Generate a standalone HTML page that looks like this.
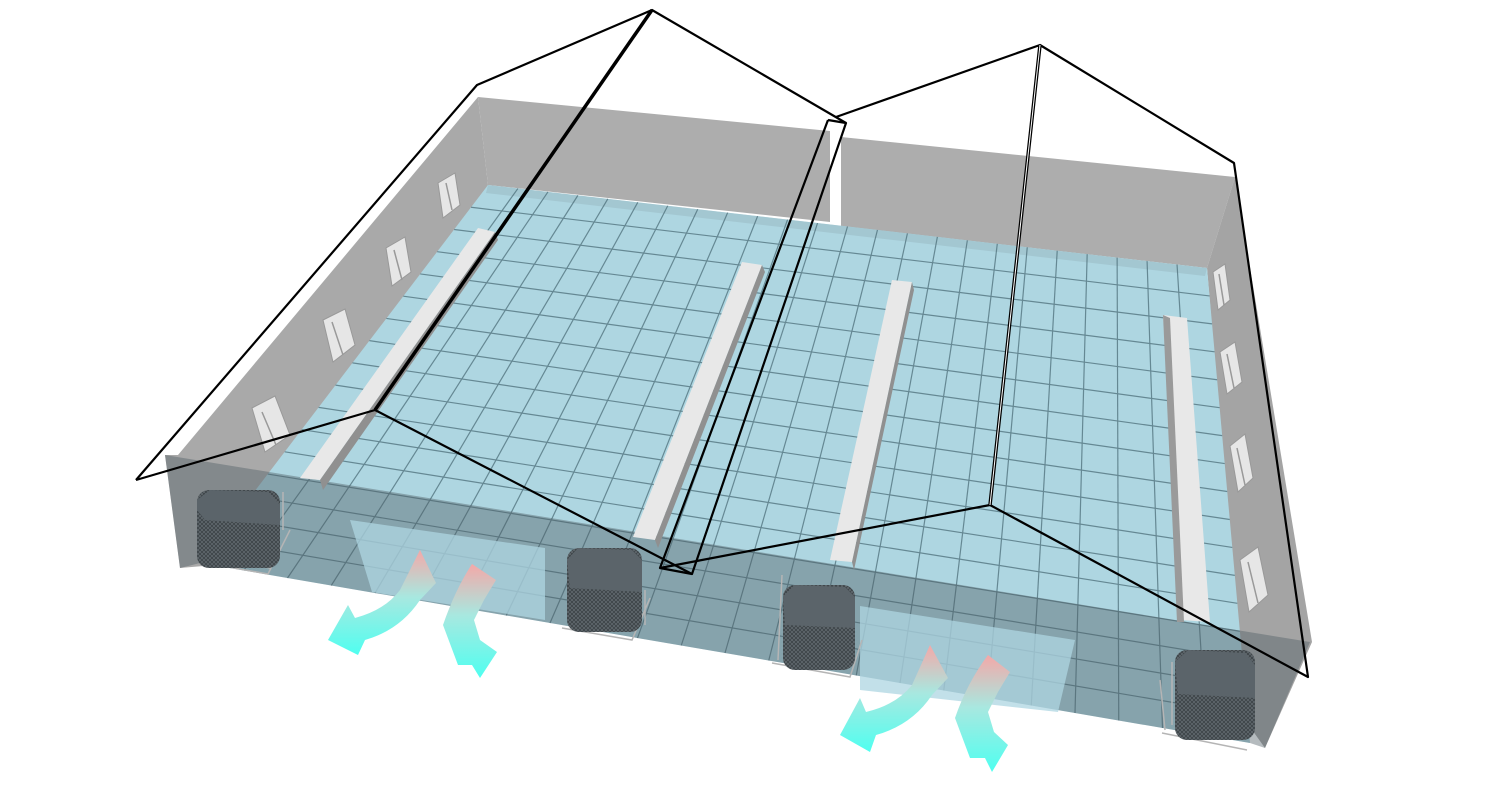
<!DOCTYPE html>
<html><head><meta charset="utf-8"><style>html,body{margin:0;padding:0;background:#fff;width:1500px;height:800px;overflow:hidden}</style></head>
<body>
<svg id="s" width="1500" height="800" viewBox="0 0 1500 800" xmlns="http://www.w3.org/2000/svg">
<defs>
<linearGradient id="g1" x1="0" y1="0" x2="0" y2="1"><stop offset="0" stop-color="#f4a8a8"/><stop offset="0.45" stop-color="#a8e8e0"/><stop offset="1" stop-color="#4ffff0"/></linearGradient>
<pattern id="mesh" width="4" height="4" patternUnits="userSpaceOnUse"><rect width="4" height="4" fill="#3e4549"/><path d="M0,0 L4,4 M4,0 L0,4" stroke="#6a7378" stroke-width="0.6"/></pattern>
</defs>
<!-- walls -->
<polygon points="478,97 830,131 830,222 488,185" fill="#adadad"/>
<polygon points="841,137 1235,177 1207,268 841,226" fill="#adadad"/>
<polygon points="478,97 488,185 275,560 180,568 165,455 178,455" fill="#a9a9a9"/>
<polygon points="1235,177 1312,642 1265,748 1245,720 1207,268" fill="#a4a4a4"/>
<!-- floor -->
<polygon id="floor" points="488,185 1207,268 1250,743 200,563" fill="#aed6e1"/>
<polygon points="488,185 1207,268 1205,276 486,193" fill="#9bbcc6" opacity="0.6"/>
<g id="grid" stroke="#4d6f7a" stroke-width="1.2" opacity="0.75"></g>
<!-- front wall translucent -->
<polygon points="165,455 1310,642 1265,748 1250,743 200,563 180,568" fill="#4e5e64" opacity="0.42"/>
<polygon points="350,520 545,548 545,620 372,592" fill="#aed6e1" opacity="0.75"/>
<polygon points="860,606 1075,640 1058,712 860,690" fill="#aed6e1" opacity="0.75"/>
<!-- fans -->
<g fill="#e6e6e6" stroke="#999" stroke-width="1">
<polygon points="438,183 455,173 460,205 443,218"/>
<polygon points="386,248 405,237 411,272 392,286"/>
<polygon points="323,320 345,309 355,345 333,362"/>
<polygon points="252,408 275,396 290,435 265,452"/>
<polygon points="1213,272 1225,264 1230,300 1218,310"/>
<polygon points="1220,352 1235,342 1242,382 1227,394"/>
<polygon points="1230,446 1245,434 1253,478 1238,492"/>
<polygon points="1240,560 1258,547 1268,595 1249,612"/>
</g>
<g stroke="#999" stroke-width="1.5">
<line x1="446" y1="183" x2="452" y2="210"/><line x1="394" y1="250" x2="402" y2="280"/>
<line x1="332" y1="322" x2="343" y2="355"/><line x1="262" y1="412" x2="276" y2="445"/>
<line x1="1219" y1="274" x2="1224" y2="305"/><line x1="1227" y1="354" x2="1234" y2="388"/>
<line x1="1237" y1="448" x2="1245" y2="485"/><line x1="1248" y1="562" x2="1258" y2="603"/>
</g>
<!-- ducts -->
<g>
<polygon points="478,228 495,232 320,480 300,478" fill="#e8e8e8"/>
<polygon points="495,232 498,240 323,490 320,480" fill="#909090"/>
<polygon points="742,262 762,265 655,540 633,537" fill="#e8e8e8"/>
<polygon points="762,265 765,272 658,548 655,540" fill="#909090"/>
<polygon points="892,280 912,282 852,562 830,560" fill="#e8e8e8"/>
<polygon points="912,282 914,290 854,570 852,562" fill="#909090"/>
<polygon points="1163,315 1187,318 1210,622 1180,620" fill="#e8e8e8"/>
<polygon points="1163,315 1170,318 1184,622 1177,622" fill="#9a9a9a"/>
</g>
<!-- cooler frames -->
<g stroke="#b5b5b5" stroke-width="1.5" fill="none">
<path d="M200,562 L268,574 L290,530 M205,555 L270,568 M283,492 L283,530"/>
<path d="M562,628 L632,640 L650,598 M645,590 L645,625"/>
<path d="M772,663 L850,677 L862,640 M782,575 L778,660"/>
<path d="M1162,733 L1247,750 M1160,680 L1165,730 M1172,662 L1172,725"/>
</g>
<g>
<rect x="197" y="490" width="83" height="78" rx="12" fill="url(#mesh)"/>
<polygon points="197,500 210,490 268,492 280,505 280,525 205,520 197,510" fill="#5b646a"/>
<rect x="567" y="548" width="75" height="84" rx="12" fill="url(#mesh)"/>
<polygon points="567,560 578,548 632,550 642,560 642,592 570,588" fill="#5b646a"/>
<rect x="783" y="585" width="72" height="85" rx="12" fill="url(#mesh)"/>
<polygon points="783,597 795,585 845,587 855,597 855,628 785,625" fill="#5b646a"/>
<rect x="1175" y="650" width="80" height="90" rx="12" fill="url(#mesh)"/>
<polygon points="1175,662 1188,650 1245,653 1255,665 1255,698 1178,694" fill="#5b646a"/>
</g>
<!-- arrows -->
<g fill="url(#g1)">
<path d="M420,550 L436,583 L420,600 Q400,630 365,640 L358,655 L328,640 L348,605 L355,618 Q385,610 400,590 Z"/>
<path d="M472,564 L496,580 L484,600 L474,620 L480,640 L497,652 L480,678 L472,665 L458,665 L443,625 Q455,590 472,564 Z"/>
<path d="M930,645 L948,678 L932,695 Q912,725 876,735 L870,752 L840,735 L860,698 L866,712 Q896,705 912,685 Z"/>
<path d="M988,655 L1010,672 L998,692 L988,712 L994,732 L1008,745 L992,772 L985,758 L970,758 L955,718 Q967,683 988,655 Z"/>
</g>
<!-- roof lines -->
<g fill="none" stroke="#000" stroke-width="2.2" stroke-linejoin="round">
<polyline points="136,480 477,85 652,10 846,123"/>
<polyline points="136,480 375,410 692,574"/>
<line x1="652" y1="10" x2="375" y2="410" stroke-width="3.5"/>
<polyline points="828,120 846,123 692,574 660,568 828,120"/>
<polyline points="836,117 1040,45 1234,163 1308,677 990,505 660,568"/>
<line x1="1040" y1="45" x2="990" y2="505" stroke-width="3.5"/>
<line x1="1040" y1="45" x2="990" y2="505" stroke="#fff" stroke-width="1"/>
</g>
</svg>
<script>
(function(){
var g=document.getElementById('grid'),ns='http://www.w3.org/2000/svg';
var BL=[488,185],BR=[1207,268],FR=[1250,743],FL=[200,563];
function L(a,b,t){return [a[0]+(b[0]-a[0])*t,a[1]+(b[1]-a[1])*t];}
function ln(p,q){var e=document.createElementNS(ns,'line');e.setAttribute('x1',p[0]);e.setAttribute('y1',p[1]);e.setAttribute('x2',q[0]);e.setAttribute('y2',q[1]);g.appendChild(e);}
var C=24,R=17;
for(var i=1;i<C;i++){var t=i/C;ln(L(BL,BR,t),L(FL,FR,t));}
for(var j=1;j<R;j++){var t=j/R;ln(L(BL,FL,t),L(BR,FR,t));}
})();
</script>
</body></html>
